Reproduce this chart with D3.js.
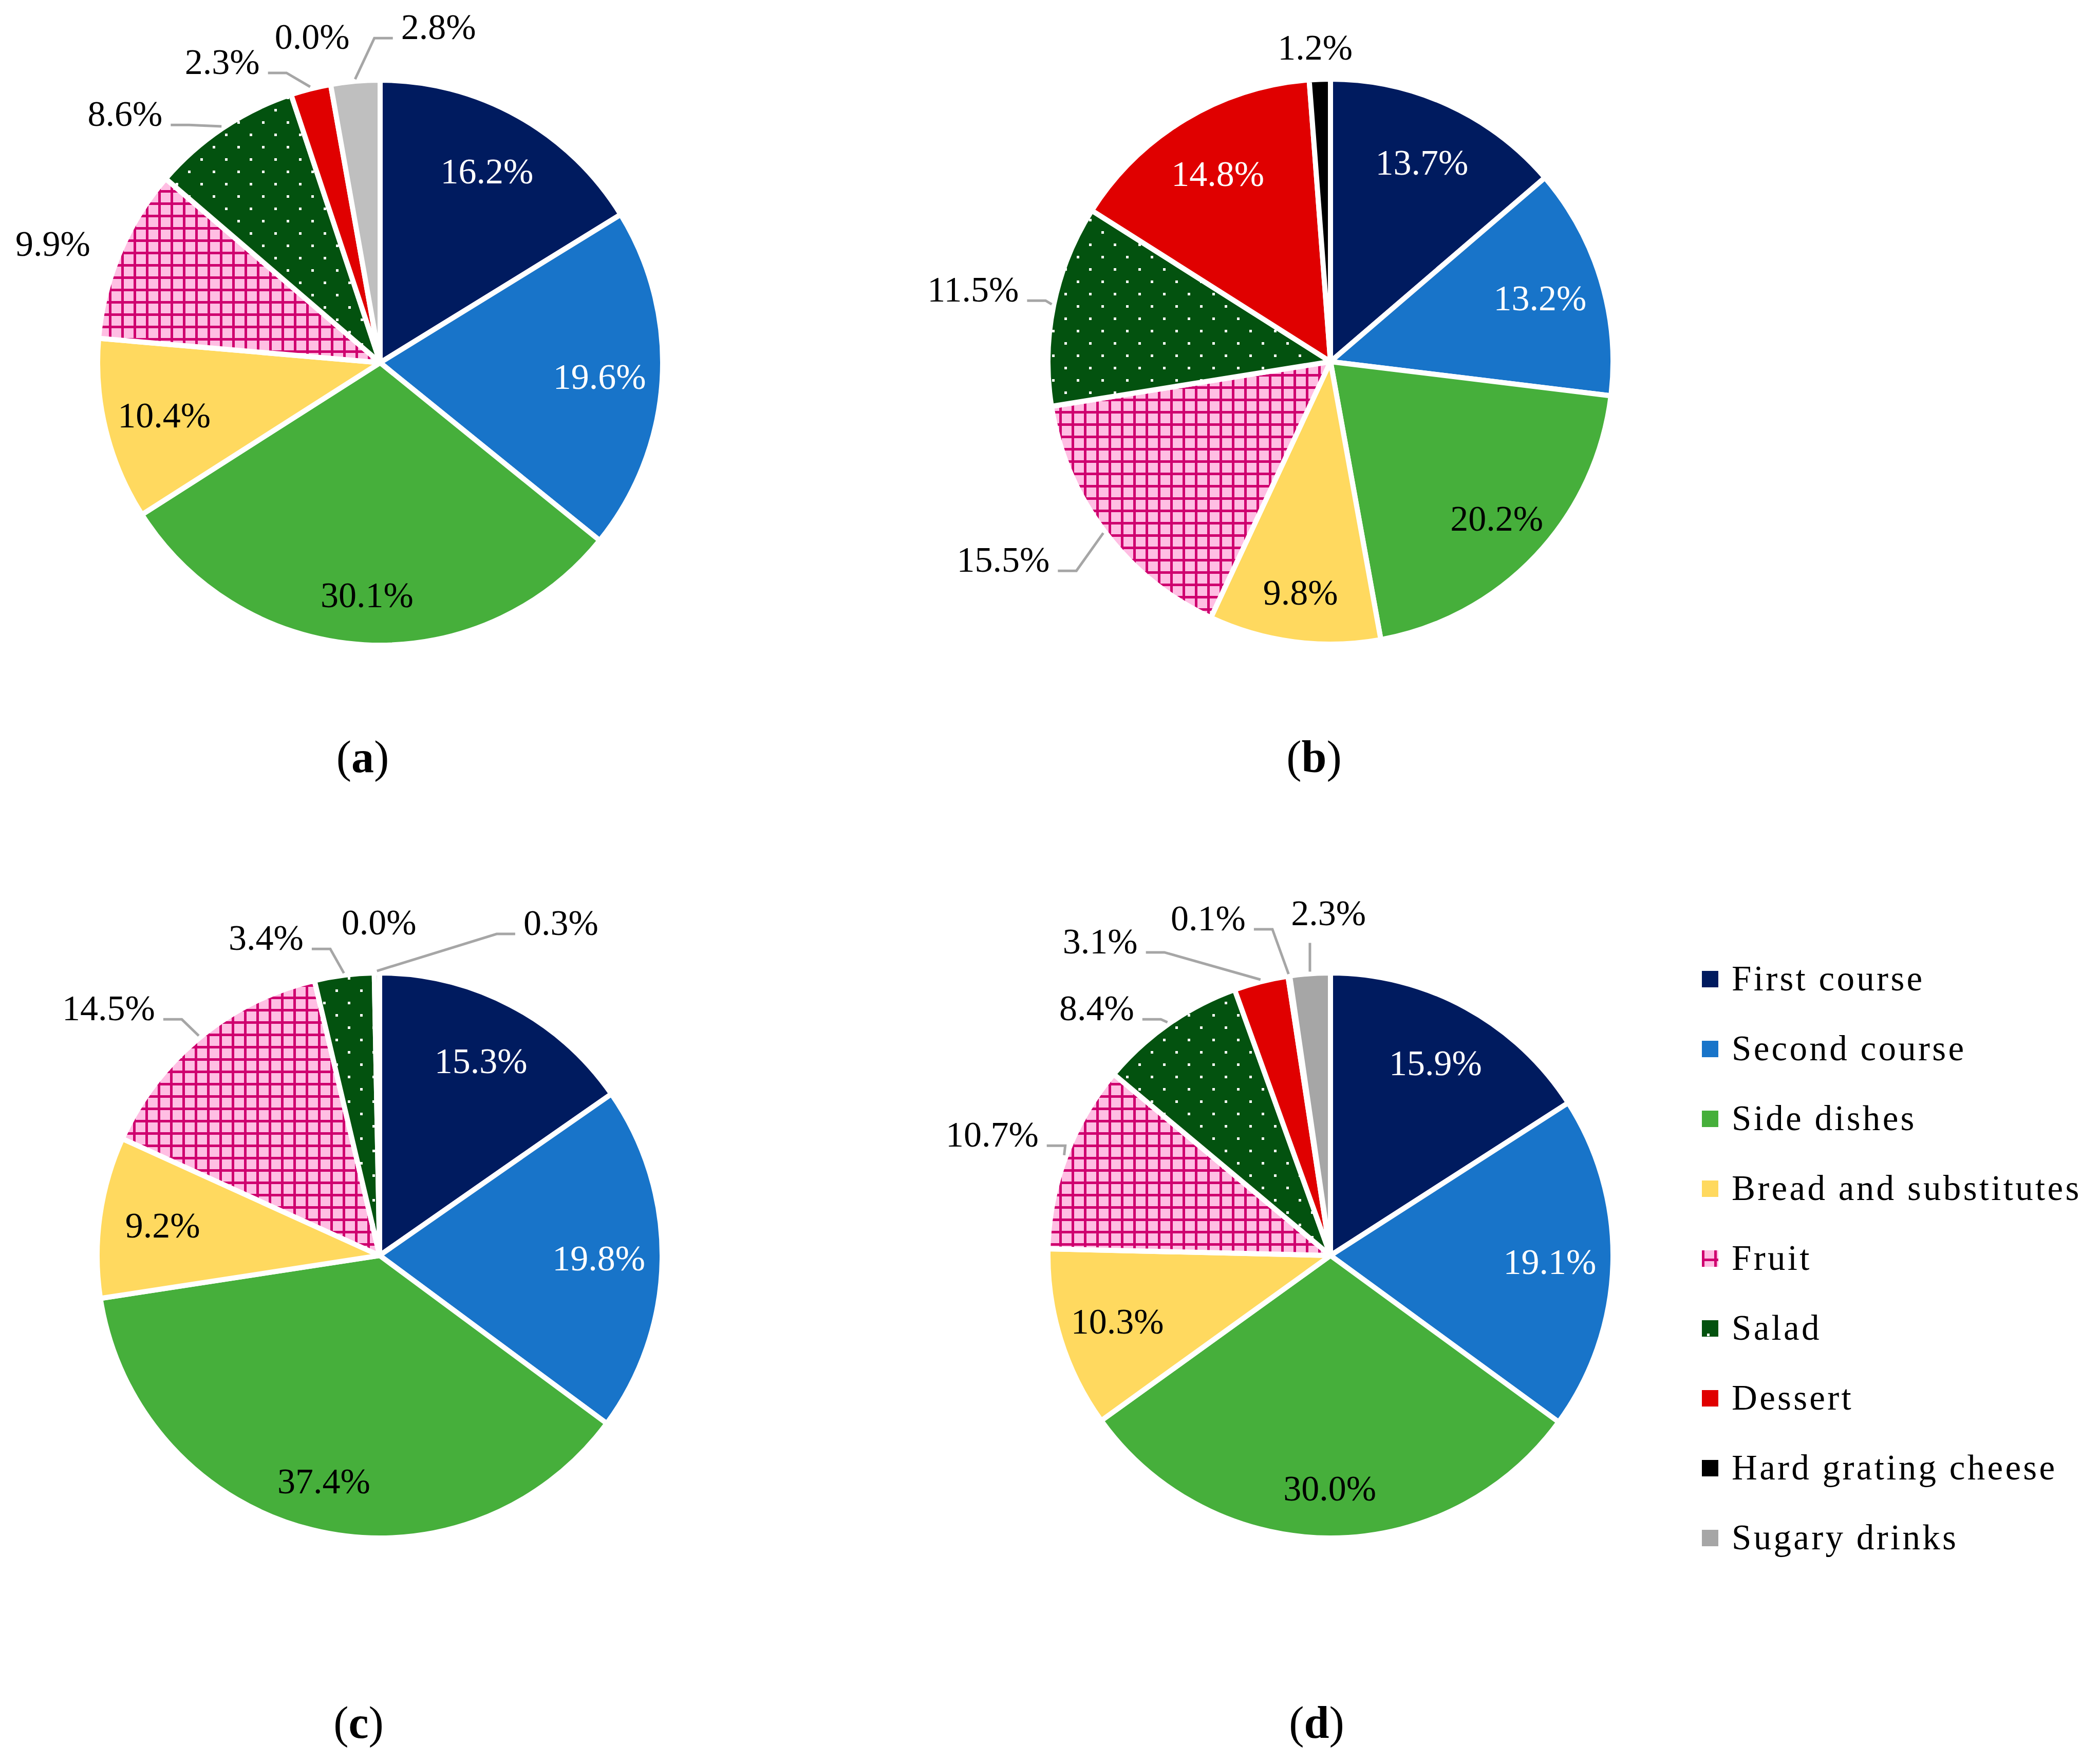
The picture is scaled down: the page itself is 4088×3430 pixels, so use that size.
<!DOCTYPE html>
<html>
<head>
<meta charset="utf-8">
<script src="https://cdn.jsdelivr.net/npm/d3@7"></script>
<style>
  body { margin: 0; background: #fff; }
  svg { display: block; }
</style>
</head>
<body>
<div id="chart"></div>
<script>
// Meal composition per panel, share of each category (%), clockwise from 12 o'clock
const categories = ['First course', 'Second course', 'Side dishes', 'Bread and substitutes',
    'Fruit', 'Salad', 'Dessert', 'Hard grating cheese', 'Sugary drinks'];
const valuesA = [16.2, 19.6, 30.1, 10.4, 9.9, 8.6, 2.3, 0.0, 2.8];
const valuesB = [13.7, 13.2, 20.2, 9.8, 15.5, 11.5, 14.8, 1.2, null];
const valuesC = [15.3, 19.8, 37.4, 9.2, 14.5, 3.4, null, 0.0, 0.3];
const valuesD = [15.9, 19.1, 30.0, 10.3, 10.7, 8.4, 3.1, 0.1, 2.3];
const panelNames = ['a', 'b', 'c', 'd'];

// styles
const fills = ['#001B5F', '#1874C9', '#46AF3B', '#FFD95F', 'url(#fruitPat)', 'url(#saladPat)',
    '#E00000', '#000000', '#A6A6A6'];
const labelInk = ['#fff', '#fff', '#000', '#000', '#000', '#fff', '#fff', '#fff', '#000'];
const fontFamily = '"Palatino Linotype", Palatino, "Book Antiqua", "Liberation Serif", serif';

// layout
const width = 4088, height = 3430;
const radius = 550;
const panels = [
    { name: panelNames[0], values: valuesA, cx: 740, cy: 706, tx: 706, ty: 1503, sugary: '#BFBFBF' },
    { name: panelNames[1], values: valuesB, cx: 2590, cy: 704, tx: 2558, ty: 1503 },
    { name: panelNames[2], values: valuesC, cx: 739, cy: 2444, tx: 698, ty: 3383 },
    { name: panelNames[3], values: valuesD, cx: 2590, cy: 2444, tx: 2563, ty: 3383 }
];
// outside labels: offset of label centre from the slice's rim point, and whether a leader is drawn
const outside = {
    a: { 'Fruit': [-130, -18, false], 'Salad': [-190, -27, true], 'Dessert': [-172, -52, true],
         'Hard grating cheese': [-36, -93, false], 'Sugary drinks': [162, -105, true] },
    b: { 'Hard grating cheese': [-9, -62, false], 'Salad': [-157, -29, true], 'Fruit': [-198, 55, true] },
    c: { 'Fruit': [-178, -56, true], 'Salad': [-152, -72, true], 'Hard grating cheese': [9, -98, false],
         'Sugary drinks': [358, -97, true] },
    d: { 'Fruit': [-144, -41, true], 'Salad': [-140, -30, true], 'Dessert': [-313, -78, true],
         'Hard grating cheese': [-157, -112, true], 'Sugary drinks': [36, -118, true] }
};

const svg = d3.select('#chart')
    .append('svg')
    .attr('width', width)
    .attr('height', height)
    .style('font-family', fontFamily);

svg.append('rect').attr('width', width).attr('height', height).attr('fill', '#fff');

// Patterns for fruit (grid) and salad (dots)
const defs = svg.append('defs');
const fruitPat = defs.append('pattern')
    .attr('id', 'fruitPat')
    .attr('patternUnits', 'userSpaceOnUse')
    .attr('width', 24).attr('height', 24);
fruitPat.append('rect').attr('width', 24).attr('height', 24).attr('fill', '#FFBEE3');
fruitPat.append('rect').attr('width', 5).attr('height', 24).attr('fill', '#CF006F');
fruitPat.append('rect').attr('width', 24).attr('height', 5).attr('fill', '#CF006F');

const saladPat = defs.append('pattern')
    .attr('id', 'saladPat')
    .attr('patternUnits', 'userSpaceOnUse')
    .attr('width', 48).attr('height', 48);
saladPat.append('rect').attr('width', 48).attr('height', 48).attr('fill', '#03520F');
saladPat.append('rect').attr('x', 10).attr('y', 10).attr('width', 5).attr('height', 5).attr('fill', '#fff');
saladPat.append('rect').attr('x', 34).attr('y', 34).attr('width', 5).attr('height', 5).attr('fill', '#fff');

const pie = d3.pie()
    .value(d => d.value)
    .sort(null);

const arc = d3.arc()
    .innerRadius(0)
    .outerRadius(radius);

const fmt = v => d3.format('.1f')(v) + '%';
const fontSize = 70;

panels.forEach(p => {
    const data = categories
        .map((c, i) => ({ category: c, index: i, value: p.values[i] }))
        .filter(d => d.value !== null);

    const g = svg.append('g')
        .attr('class', 'panel')
        .attr('transform', `translate(${p.cx},${p.cy})`);

    const arcs = pie(data);

    // Slices
    g.selectAll('.slice')
        .data(arcs.filter(d => d.data.value > 0))
        .enter()
        .append('path')
        .attr('class', 'slice')
        .attr('d', arc)
        .attr('fill', d => (d.data.index === 8 && p.sugary) ? p.sugary : fills[d.data.index])
        .attr('stroke', '#fff')
        .attr('stroke-width', 10)
        .attr('stroke-linejoin', 'round');

    // Labels
    arcs.forEach(d => {
        const mid = (d.startAngle + d.endAngle) / 2;
        const sx = Math.sin(mid), sy = -Math.cos(mid);
        const out = outside[p.name][d.data.category];
        const label = g.append('text')
            .attr('font-size', fontSize)
            .attr('text-anchor', 'middle')
            .attr('dy', '0.33em')
            .text(fmt(d.data.value));

        if (!out) {
            const f = 0.775 + 0.05 * Math.max(0, -Math.cos(mid));
            label.attr('x', sx * radius * f)
                .attr('y', sy * radius * f)
                .attr('fill', labelInk[d.data.index]);
            return;
        }

        const rimX = sx * radius, rimY = sy * radius;
        const lx = rimX + out[0], ly = rimY + out[1];
        label.attr('x', lx).attr('y', ly).attr('fill', '#000');
        if (!out[2]) return;

        const w = label.node().getComputedTextLength();
        const endX = sx * (radius + 4), endY = sy * (radius + 4);
        let pts;
        if (rimX > lx - w / 2 && rimX < lx + w / 2) {
            pts = [[endX, ly + 58], [endX, endY]];
        } else if (rimX > lx) {
            const x0 = lx + w / 2 + 16;
            pts = [[x0, ly + 21], [x0 + 36, ly + 21], [endX, endY]];
        } else {
            const x0 = lx - w / 2 - 16;
            pts = [[x0, ly + 21], [x0 - 36, ly + 21], [endX, endY]];
        }
        g.insert('path', 'text')
            .attr('class', 'leader')
            .attr('d', d3.line()(pts))
            .attr('fill', 'none')
            .attr('stroke', '#A6A6A6')
            .attr('stroke-width', 5);
    });

    // Panel caption: (a), (b), ...
    const cap = svg.append('text')
        .attr('x', p.tx)
        .attr('y', p.ty)
        .attr('text-anchor', 'middle')
        .attr('font-size', 88)
        .attr('fill', '#000');
    cap.append('tspan').text('(');
    cap.append('tspan').attr('font-weight', 'bold').text(p.name);
    cap.append('tspan').text(')');
});

// Legend
const legend = svg.append('g')
    .attr('class', 'legend')
    .attr('transform', 'translate(3313, 1906)');

const legendItems = legend.selectAll('.legend-item')
    .data(categories)
    .enter()
    .append('g')
    .attr('class', 'legend-item')
    .attr('transform', (d, i) => `translate(0, ${i * 136})`);

legendItems.append('rect')
    .attr('y', -16)
    .attr('width', 32)
    .attr('height', 32)
    .attr('fill', (d, i) => fills[i]);

legendItems.append('text')
    .attr('x', 58)
    .attr('y', 22)
    .attr('font-size', 69)
    .attr('letter-spacing', 4.3)
    .attr('fill', '#000')
    .text(d => d);
</script>
</body>
</html>
